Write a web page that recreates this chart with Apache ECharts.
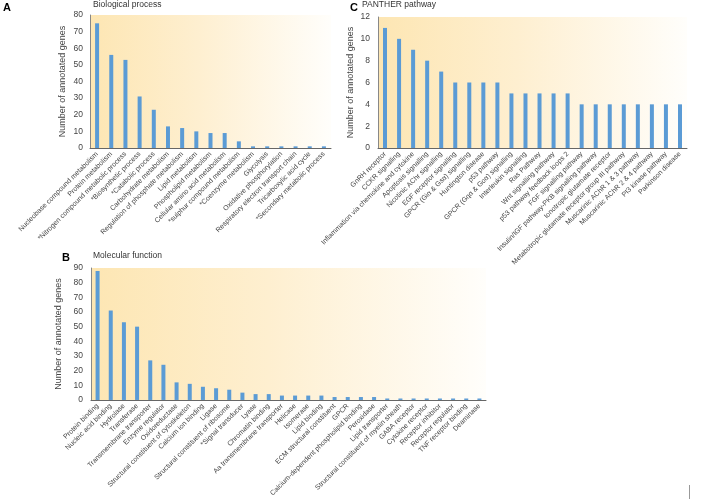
<!DOCTYPE html>
<html>
<head>
<meta charset="utf-8">
<script src="https://cdn.jsdelivr.net/npm/echarts@6/dist/echarts.min.js"></script>
<style>html,body{margin:0;padding:0;background:#fff;}#c{width:709px;height:499px;}</style>
</head>
<body>
<div id="c"></div>
<script>
// Panel A: Biological process
const bpCategories = ["Nucleobase compound metabolism","Protein metabolism","*Nitrogen compound metabolic process","*Biosynthetic process","*Catabolic process","Carbohydrate metabolism","Regulation of phosphate metabolism","Lipid metabolism","Phospholipid metabolism","Cellular amino acid metabolism","*sulphur compound metabolism","*Coenzyme metabolism","Glycolysis","Oxidative phosphorylation","Respiratory electron transport chain","Tricarboxylic acid cycle","*Secondary metabolic process"];
const bpValues = [75,56,53,31,23,13,12,10,9,9,4,1,1,1,1,1,1];
const bpTicks = {min:0, max:80, interval:10};

// Panel B: Molecular function
const mfCategories = ["Protein binding","Nucleic acid binding","Hydrolase","Transferase","Transmembrane transporter","Enzyme regulator","Oxidoreductase","Structural constituent of cytoskeleton","Calcium ion binding","Ligase","Structural constituent of ribosome","*Signal transducer","Lyase","Chromatin binding","Aa transmembrane transporter","Helicase","Isomerase","Lipid binding","ECM structural constituent","GPCR","Calcium-dependent phospholipid binding","Peroxidase","Lipid transporter","Structural constituent of myelin sheath","GABA receptor","Cytokine receptor","Receptor inhibitor","Receptor regulator","TNF receptor binding","Deaminase"];
const mfValues = [88,61,53,50,27,24,12,11,9,8,7,5,4,4,3,3,3,3,2,2,2,2,1,1,1,1,1,1,1,1];
const mfTicks = {min:0, max:90, interval:10};

// Panel C: PANTHER pathway
const ppCategories = ["GnRH receptor","CCKR signalling","Inflammation via chemokine and cytokine","Apoptosis signalling","Nicotinic AChr signalling","EGF receptor signalling","GPCR (Giα & Gsα) signalling","Huntington disease","p53 pathway","GPCR (Gqα & Goα) signalling","Interleukin signalling","Ras Pathway","Wnt signalling pathway","p53 pathway feedback loops 2","FGF signalling pathway","Insulin/IGF pathway-PKB signalling pathway","Ionotropic glutamate receptor","Metabotropic glutamate receptor group III pathway","Muscarinic AChR 1 & 3 pathway","Muscarinic AChR 2 & 4 pathway","PI3 kinase pathway","Parkinson disease"];
const ppValues = [11,10,9,8,7,6,6,6,6,5,5,5,5,5,4,4,4,4,4,4,4,4];
const ppTicks = {min:0, max:12, interval:2};

const yTitle = "Number of annotated genes";
const FONT = "'Liberation Sans', Arial, sans-serif";
const BAR = '#5b9bd5';

const bg = {type:'linear', x:0, y:0, x2:1, y2:0, colorStops:[
  {offset:0, color:'#fde6b3'},
  {offset:0.45, color:'#feefd0'},
  {offset:1, color:'#fffefb'}
]};

function grid(l,t,w,h){ return {left:l, top:t, width:w, height:h, show:true, backgroundColor:bg, borderWidth:0, containLabel:false}; }
function xAx(idx, cats){
  return {type:'category', gridIndex:idx, data:cats,
    axisLine:{show:true, lineStyle:{color:'#666', width:1}},
    axisTick:{show:false},
    axisLabel:{interval:0, rotate:45, fontSize:7, color:'#444', fontFamily:FONT, margin:5}};
}
function yAx(idx, t, gap, margin){
  return {type:'value', gridIndex:idx, min:t.min, max:t.max, interval:t.interval,
    name:yTitle, nameLocation:'middle', nameGap:gap, nameRotate:90,
    nameTextStyle:{fontSize:9, color:'#444', fontFamily:FONT},
    axisLine:{show:true, lineStyle:{color:'#888', width:1}},
    axisTick:{show:false}, splitLine:{show:false},
    axisLabel:{fontSize:8.5, color:'#444', fontFamily:FONT, margin:margin}};
}
function ser(idx, vals){
  return {type:'bar', xAxisIndex:idx, yAxisIndex:idx, data:vals, barWidth:4,
    itemStyle:{color:BAR}, silent:true, animation:false};
}
function txt(x,y,s,size,bold){
  return {type:'text', left:x, top:y, style:{text:s, fontSize:size, fontWeight:bold?'bold':'normal', fill:bold?'#000':'#333', fontFamily:FONT}};
}

const chart = echarts.init(document.getElementById('c'), null, {renderer:'canvas'});
chart.setOption({
  animation:false,
  grid:[grid(90,15,241,133), grid(91,268,395,133), grid(378,17,309,131)],
  xAxis:[xAx(0,bpCategories), xAx(1,mfCategories), xAx(2,ppCategories)],
  yAxis:[yAx(0,bpTicks,23,7), yAx(1,mfTicks,20,8), yAx(2,ppTicks,23,8)],
  series:[ser(0,bpValues), ser(1,mfValues), ser(2,ppValues)],
  graphic:[
    txt(3,2,'A',11,true),
    txt(93,0,'Biological process',8.5,false),
    txt(62,252,'B',11,true),
    txt(93,251,'Molecular function',8.5,false),
    txt(350,2,'C',11,true),
    txt(362,0,'PANTHER pathway',8.5,false),
    {type:'line', shape:{x1:689.5,y1:485,x2:689.5,y2:499}, style:{stroke:'#999', lineWidth:1}}
  ]
});
</script>
</body>
</html>
